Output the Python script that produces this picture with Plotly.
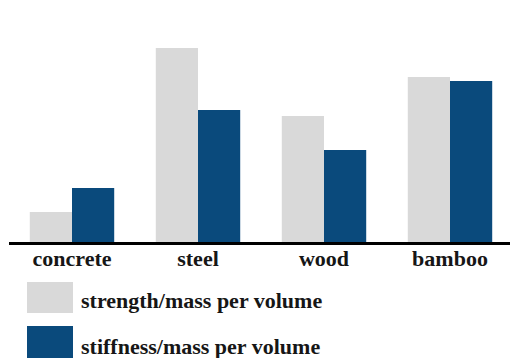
import plotly.graph_objects as go

categories = ["concrete", "steel", "wood", "bamboo"]
strength = [30, 194, 126, 165]
stiffness = [54, 132, 92, 161]
series_names = ["strength/mass per volume", "stiffness/mass per volume"]
gray = "#d9d9d9"
blue = "#0a4a7c"
text_color = "#161616"
font_family = "Liberation Serif, Times New Roman, serif"

# page has an 8px body margin; figure is drawn at that offset
OFF = 8
W, H = 510, 350
L, R, T, B = 1, 5, 23, 116
plot_w = W - L - R
plot_h = H - T - B

def px_x(x):  # page pixel -> paper x
    return (x - OFF - L) / plot_w

def px_y(y):  # page pixel -> paper y
    return (H - B + OFF - y) / plot_h

fig = go.Figure()
fig.add_trace(go.Bar(x=categories, y=strength, name=series_names[0],
                     marker=dict(color=gray, line=dict(width=0)), showlegend=False))
fig.add_trace(go.Bar(x=categories, y=stiffness, name=series_names[1],
                     marker=dict(color=blue, line=dict(width=0)), showlegend=False))

# custom legend swatches and labels
swatch_rows = [(282, 313, 300), (326, 360, 346)]
for (top, bottom, text_y), name, col in zip(swatch_rows, series_names, [gray, blue]):
    fig.add_shape(type="rect", xref="paper", yref="paper", layer="above",
                  x0=px_x(27), x1=px_x(73), y0=px_y(bottom), y1=px_y(top),
                  fillcolor=col, line=dict(width=0))
    fig.add_annotation(xref="paper", yref="paper", x=px_x(79), y=px_y(text_y),
                       xanchor="left", yanchor="middle", showarrow=False,
                       text="<b>" + name + "</b>",
                       font=dict(family=font_family, size=22, color=text_color))

# baseline continues to the right edge of the page
fig.add_shape(type="line", xref="paper", yref="paper", layer="above",
              x0=1, x1=px_x(519), y0=0, y1=0,
              line=dict(color="black", width=2.5))

fig.update_layout(
    width=W, height=H,
    margin=dict(l=L, r=R, t=T, b=B, autoexpand=False),
    paper_bgcolor="white", plot_bgcolor="white",
    barmode="group", bargap=0.33, bargroupgap=0,
    font=dict(family=font_family, size=22, color=text_color),
    xaxis=dict(showline=True, linecolor="black", linewidth=2.5,
               showgrid=False, zeroline=False, ticks="", ticklen=0,
               ticklabelstandoff=-5,
               tickmode="array", tickvals=categories,
               ticktext=["<b>" + c + "</b>" for c in categories],
               tickfont=dict(family=font_family, size=22, color=text_color)),
    yaxis=dict(range=[0, 211], visible=False, showgrid=False, zeroline=False),
)

fig.write_html("out.html")
